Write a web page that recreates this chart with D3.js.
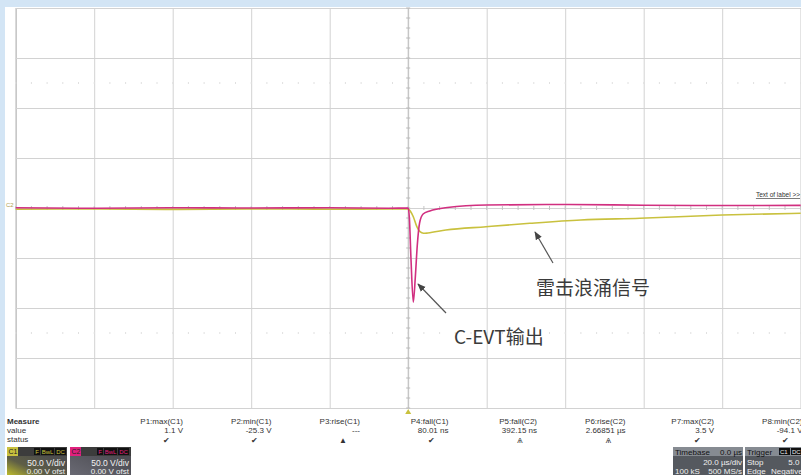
<!DOCTYPE html>
<html lang="zh">
<head>
    <meta charset="UTF-8">
    <title>C-EVT 雷击浪涌</title>
    <script src="https://d3js.org/d3.v7.min.js"></script>
    <style>
        body { margin: 0; background: #d3e5f5; }
        svg { display: block; font-family: "Liberation Sans", Arial, sans-serif; }
        .grid line { stroke: #d2d2d2; stroke-width: 1; }
        .grid path { stroke: #c4c4c4; }
        .trace { fill: none; stroke-width: 1.6; stroke-linejoin: round; }
        .meas { font-size: 8px; fill: #333; }
        .note { font-family: "Noto Sans CJK SC", "Liberation Sans", sans-serif; font-size: 19px; fill: #3a3a3a; }
    </style>
</head>
<body>
<div id="chart"></div>
<script>
// time in microseconds, voltage in volts (50 V/div, 20 us/div)
const c1Time  = [-100, -80, -60, -40, -20, -5, 0, 0.6, 1.3, 2.2, 3.0, 3.9, 5, 9.6, 19.8, 31, 44, 59, 80, 100];
const c1Volts = [-1.2, -1.0, -1.4, -0.9, -1.2, -1.0, -1.0, -3.5, -8.7, -18.7, -23.7, -25.3, -25.0, -22.0, -18.7, -15.3, -12.0, -10.3, -7.0, -5.3];

const c2Time  = [-100, -80, -60, -40, -20, -5, 0, 0.3, 0.7, 1.3, 1.8, 2.3, 2.9, 3.8, 5.5, 10, 20, 40, 60, 80, 100];
const c2Volts = [0.2, -0.3, 0.3, 0.0, 0.2, -0.2, 0.0, -10, -50, -94.1, -70, -38, -15, -6, -3, 0.5, 3.0, 3.5, 2.8, 2.5, 2.6];

const timeTicks = d3.range(-100, 101, 20);
const voltTicks = d3.range(-200, 201, 50);

const measLabels = ["P1:max(C1)", "P2:min(C1)", "P3:rise(C1)", "P4:fall(C1)", "P5:fall(C2)", "P6:rise(C2)", "P7:max(C2)", "P8:min(C2)"];
const measValues = ["1.1 V", "-25.3 V", "---", "80.01 ns", "392.15 ns", "2.66851 µs", "3.5 V", "-94.1 V"];
const measStatus = ["✔", "✔", "▲", "✔", "Ѧ", "Ѧ", "✔", "✔"];

const W = 801, H = 475;
const svg = d3.select("#chart").append("svg").attr("width", W).attr("height", H);

// blue backdrop and the white scope screen
svg.append("rect").attr("width", W).attr("height", H).attr("fill", "#d3e5f5");
svg.append("rect").attr("x", 5).attr("y", 7).attr("width", W - 5).attr("height", H - 7).attr("fill", "#ffffff");

const x = d3.scaleLinear().domain([-100, 100]).range([15.7, 800.7]);
const y = d3.scaleLinear().domain([-200, 200]).range([408, 8]);

// grid
svg.append("g").attr("class", "grid")
    .attr("transform", `translate(0,${y(-200)})`)
    .call(d3.axisBottom(x).tickValues(timeTicks).tickSize(-400).tickFormat(""));
svg.append("g").attr("class", "grid")
    .attr("transform", `translate(${x(-100)},0)`)
    .call(d3.axisLeft(y).tickValues(voltTicks).tickSize(-785).tickFormat(""));

// minor ticks on the centre axes and dotted rows
const minorT = d3.range(-100, 100.1, 4);
const minorV = d3.range(-200, 200.1, 10);
svg.append("g").selectAll("line").data(minorT).join("line")
    .attr("x1", d => x(d)).attr("x2", d => x(d))
    .attr("y1", y(0) - 2).attr("y2", y(0) + 2)
    .attr("stroke", "#c4c4c4");
svg.append("g").selectAll("line").data(minorV).join("line")
    .attr("x1", x(0) - 2).attr("x2", x(0) + 2)
    .attr("y1", d => y(d)).attr("y2", d => y(d))
    .attr("stroke", "#b8b8b8");
[125, -125].forEach(v => {
    svg.append("g").selectAll("line").data(minorT).join("line")
        .attr("x1", d => x(d)).attr("x2", d => x(d))
        .attr("y1", y(v) - 1).attr("y2", y(v) + 1)
        .attr("stroke", "#e0e0e0");
});
// centre vertical line a bit darker
svg.append("line").attr("x1", x(0)).attr("x2", x(0)).attr("y1", y(200)).attr("y2", y(-200))
    .attr("stroke", "#bdbdbd");

// traces
const line = d3.line().x(d => x(d[0])).y(d => y(d[1])).curve(d3.curveMonotoneX);
svg.append("path").attr("class", "trace").attr("stroke", "#c9c13e")
    .attr("d", line(d3.zip(c1Time, c1Volts)));
svg.append("path").attr("class", "trace").attr("stroke", "#d12f80")
    .attr("d", line(d3.zip(c2Time, c2Volts)));

// channel marker at left and trigger marker at bottom
svg.append("text").attr("x", 6).attr("y", y(0) - 1).attr("font-size", 6).attr("fill", "#b0a050").text("C2");
svg.append("path")
    .attr("d", `M${x(0) - 3},${y(-200) + 6}L${x(0) + 3},${y(-200) + 6}L${x(0)},${y(-200) + 1}Z`)
    .attr("fill", "#c9c13e");

// label link
svg.append("text").attr("x", 800).attr("y", 197).attr("text-anchor", "end")
    .attr("font-size", 6.5).attr("fill", "#333").attr("text-decoration", "underline")
    .text("Text of label >>");

// annotations
svg.append("defs").append("marker")
    .attr("id", "arrow").attr("viewBox", "0 0 10 10").attr("refX", 9).attr("refY", 5)
    .attr("markerWidth", 7).attr("markerHeight", 7).attr("orient", "auto")
    .append("path").attr("d", "M0,1L10,5L0,9Z").attr("fill", "#444");
svg.append("line").attr("x1", 553).attr("y1", 263).attr("x2", 535).attr("y2", 232)
    .attr("stroke", "#555").attr("stroke-width", 1.2).attr("marker-end", "url(#arrow)");
svg.append("line").attr("x1", 446).attr("y1", 313).attr("x2", 418).attr("y2", 284)
    .attr("stroke", "#555").attr("stroke-width", 1.2).attr("marker-end", "url(#arrow)");
svg.append("text").attr("class", "note").attr("x", 536).attr("y", 295).text("雷击浪涌信号");
svg.append("text").attr("class", "note").attr("x", 454).attr("y", 344).attr("font-size", 20).text("C-EVT输出");

// measurement table
svg.append("text").attr("class", "meas").attr("x", 7).attr("y", 424).attr("font-weight", "bold").text("Measure");
svg.append("text").attr("class", "meas").attr("x", 7).attr("y", 433).text("value");
svg.append("text").attr("class", "meas").attr("x", 7).attr("y", 442).text("status");
measLabels.forEach((lab, i) => {
    const cx = 183 + i * 88.5;
    svg.append("text").attr("class", "meas").attr("x", cx).attr("y", 424).attr("text-anchor", "end").text(lab);
    svg.append("text").attr("class", "meas").attr("x", cx).attr("y", 433).attr("text-anchor", "end").text(measValues[i]);
    svg.append("text").attr("class", "meas").attr("x", cx - 17).attr("y", 443).attr("text-anchor", "middle")
        .attr("font-size", measStatus[i] === "✔" ? 8 : 6).attr("fill", measStatus[i] === "✔" ? "#222" : "#666")
        .text(measStatus[i]);
});

// channel descriptor boxes
const grad = svg.select("defs").append("linearGradient").attr("id", "c1grad")
    .attr("x1", "0").attr("y1", "1").attr("x2", "0.7").attr("y2", "0.3");
grad.append("stop").attr("offset", "0").attr("stop-color", "#bdbb2c");
grad.append("stop").attr("offset", "0.45").attr("stop-color", "#5e5e46");
grad.append("stop").attr("offset", "1").attr("stop-color", "#4e4e4e");
const grad2 = svg.select("defs").append("linearGradient").attr("id", "c2grad")
    .attr("x1", "0").attr("y1", "1").attr("x2", "0.7").attr("y2", "0.3");
grad2.append("stop").attr("offset", "0").attr("stop-color", "#6a6a74");
grad2.append("stop").attr("offset", "1").attr("stop-color", "#4e4e54");

function chanBox(x0, w, tag, tagColor, fill) {
    const g = svg.append("g").attr("transform", `translate(${x0},447)`);
    g.append("rect").attr("width", w).attr("height", 28).attr("fill", fill);
    g.append("rect").attr("width", w).attr("height", 9).attr("fill", "#3c3c3c");
    g.append("rect").attr("width", 11).attr("height", 9).attr("fill", tagColor);
    g.append("text").attr("x", 1.5).attr("y", 7).attr("font-size", 7).attr("fill", "#222").text(tag);
    [["F", 27, 6], ["BwL", 34, 13], ["DC", 48, 11]].forEach(([t, bx, bw]) => {
        g.append("rect").attr("x", bx).attr("y", 1).attr("width", bw).attr("height", 7).attr("fill", "#111");
        g.append("text").attr("x", bx + bw / 2).attr("y", 7).attr("text-anchor", "middle")
            .attr("font-size", 6).attr("fill", tagColor).text(t);
    });
    g.append("text").attr("x", w - 2).attr("y", 18.5).attr("text-anchor", "end").attr("font-size", 8.5).attr("fill", "#f2f2f2").text("50.0 V/div");
    g.append("text").attr("x", w - 2).attr("y", 27).attr("text-anchor", "end").attr("font-size", 8).attr("fill", "#f2f2f2").text("0.00 V ofst");
}
chanBox(7, 60, "C1", "#c9c13e", "url(#c1grad)");
chanBox(70, 61, "C2", "#e0207e", "url(#c2grad)");

// timebase and trigger boxes
function infoBox(x0, w, rows) {
    const g = svg.append("g").attr("transform", `translate(${x0},447)`);
    g.append("rect").attr("width", w).attr("height", 28).attr("fill", "#55595f");
    g.append("rect").attr("width", w).attr("height", 9).attr("fill", "#868b92");
    rows.forEach(r => {
        g.append("text").attr("x", r[1]).attr("y", r[2]).attr("text-anchor", r[3])
            .attr("font-size", 8).attr("fill", r[4] || "#f0f0f0").text(r[0]);
    });
    return g;
}
infoBox(673, 70, [
    ["Timebase", 2, 8, "start", "#111"], ["0.0 µs", 69, 8, "end", "#111"],
    ["20.0 µs/div", 69, 18, "end"],
    ["100 kS", 2, 27, "start"], ["500 MS/s", 69, 27, "end"]
]);
const tg = infoBox(745, 60, [
    ["Trigger", 2, 8, "start", "#111"],
    ["Stop", 2, 18, "start"], ["5.0 V", 62, 18, "end"],
    ["Edge", 2, 27, "start"], ["Negative", 26, 27, "start"]
]);
tg.append("rect").attr("x", 34).attr("y", 1).attr("width", 11).attr("height", 7).attr("fill", "#111");
tg.append("text").attr("x", 35).attr("y", 7).attr("font-size", 6).attr("fill", "#eee").text("C1");
tg.append("rect").attr("x", 46).attr("y", 1).attr("width", 12).attr("height", 7).attr("fill", "#111");
tg.append("text").attr("x", 47).attr("y", 7).attr("font-size", 6).attr("fill", "#eee").text("DC");
</script>
</body>
</html>
